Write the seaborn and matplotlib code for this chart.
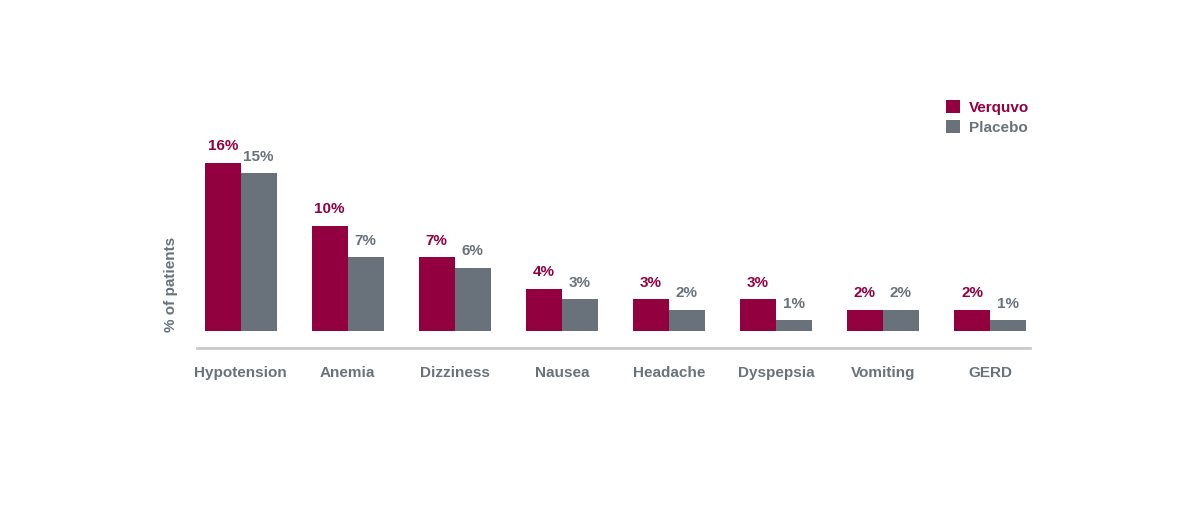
import matplotlib
matplotlib.use("Agg")
import matplotlib.pyplot as plt
from matplotlib.patches import Patch
import pandas as pd
import seaborn as sns

categories = ["Hypotension", "Anemia", "Dizziness", "Nausea",
              "Headache", "Dyspepsia", "Vomiting", "GERD"]
verquvo = [16, 10, 7, 4, 3, 3, 2, 2]
placebo = [15, 7, 6, 3, 2, 1, 2, 1]
groups = ["Verquvo", "Placebo"]

RED = "#930040"
GRAY = "#69727a"

df = pd.DataFrame({
    "event": categories * 2,
    "pct": verquvo + placebo,
    "group": ["Verquvo"] * len(categories) + ["Placebo"] * len(categories),
})

sns.set_theme(style="white")
plt.rcParams["font.family"] = ["Liberation Sans", "DejaVu Sans"]

fig = plt.figure(figsize=(12, 5.15), dpi=100)
ax = fig.add_axes([0.164, 0.3243, 0.694, 0.482])

sns.barplot(data=df, x="event", y="pct", hue="group", hue_order=groups,
            palette=[RED, GRAY], width=0.672, gap=0, saturation=1,
            edgecolor="none", legend=False, ax=ax)

for cont, col in zip(ax.containers, [RED, GRAY]):
    vals = [f"{v:g}%" for v in cont.datavalues]
    ax.bar_label(cont, labels=vals, padding=7, color=col,
                 fontsize=11, fontweight="bold")

ax.set_xlim(-0.41, 7.37)
ax.set_ylim(-1.62, 22)
for s in ["top", "right", "left"]:
    ax.spines[s].set_visible(False)
ax.spines["bottom"].set_color("#c8cacc")
ax.spines["bottom"].set_linewidth(2)
ax.set_yticks([])
ax.set_xlabel("")
ax.tick_params(axis="x", length=0, pad=13, labelsize=11, colors=GRAY)
for t in ax.get_xticklabels():
    t.set_fontweight("bold")
ax.set_ylabel("% of patients", fontsize=11, fontweight="bold", color=GRAY)
ax.yaxis.set_label_coords(-0.022, 0.258)

handles = [Patch(facecolor=RED, edgecolor="none"),
           Patch(facecolor=GRAY, edgecolor="none")]
leg = fig.legend(handles, groups, loc="upper left",
                 bbox_to_anchor=(946 / 1200, 1 - 100 / 515), frameon=False,
                 handlelength=0.9, handleheight=0.9, handletextpad=0.6,
                 labelspacing=0.35, borderpad=0, borderaxespad=0,
                 prop={"size": 11, "weight": "bold"})
for txt, col in zip(leg.get_texts(), [RED, GRAY]):
    txt.set_color(col)

fig.savefig("out.png", dpi=100, facecolor="white")
